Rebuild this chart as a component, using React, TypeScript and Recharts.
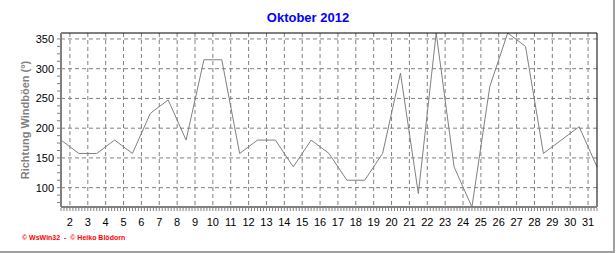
import { CartesianGrid, Line, LineChart, ReferenceLine, XAxis, YAxis } from "recharts";

// Oktober 2012 - Richtung Windböen, ein Wert pro Tag (Grad)
const days = [
  1, 2, 3, 4, 5, 6, 7, 8, 9, 10, 11, 12, 13, 14, 15, 16,
  17, 18, 19, 20, 21, 22, 23, 24, 25, 26, 27, 28, 29, 30, 31,
];
const gustDir = [
  180, 157.5, 157.5, 180, 157.5, 225, 247.5, 180, 315, 315, 157.5,
  180, 180, 135, 180, 157.5, 112.5, 112.5, 157.5, 292.5, 90, 360,
  135, 67.5, 270, 360, 337.5, 157.5, 180, 202.5, 135,
];

// day labels sit at the start of each day (data points are day midpoints)
const dayTickLabels = [
  2, 3, 4, 5, 6, 7, 8, 9, 10, 11, 12, 13, 14, 15, 16, 17,
  18, 19, 20, 21, 22, 23, 24, 25, 26, 27, 28, 29, 30, 31,
];
const yTickLabels = [100, 150, 200, 250, 300, 350];
const Y_DOMAIN: [number, number] = [67.5, 360];

const GREY = "#808080";
const FONT = "Arial, 'Liberation Sans', sans-serif";

const data = days.map((d, i) => ({ day: d, dir: gustDir[i] }));

const dayTickPos = dayTickLabels.map((d) => d - 0.5);

// minor ticks every 4 hours along x, every 12.5 deg along y
const xMinor: number[] = [];
for (let i = 0; i <= 180; i++) xMinor.push(1 + i / 6);
const yMinor: number[] = [];
for (let v = 75; v <= 350; v += 12.5) yMinor.push(v);

const isMajorX = (v: number) => dayTickPos.some((p) => Math.abs(p - v) < 0.01);

function XTick(props: any) {
  const { x, y, payload } = props;
  const major = isMajorX(payload.value);
  return (
    <g>
      <line x1={x} x2={x} y1={y + 1} y2={y + 4} stroke={GREY} />
      {major && (
        <text x={x} y={y + 19} textAnchor="middle" fontSize={11} fontFamily={FONT} fill="#000">
          {Math.round(payload.value + 0.5)}
        </text>
      )}
    </g>
  );
}

function YTick(props: any) {
  const { x, y, payload } = props;
  const major = yTickLabels.includes(payload.value);
  return (
    <g>
      <line x1={x - 4} x2={x - 1} y1={y} y2={y} stroke={GREY} />
      {major && (
        <text x={x - 7} y={y + 4} textAnchor="end" fontSize={11} fontFamily={FONT} fill="#000">
          {payload.value}
        </text>
      )}
    </g>
  );
}

export default function App() {
  return (
    <div
      style={{
        position: "absolute",
        left: 0,
        top: 0,
        width: 615,
        height: 253,
        boxSizing: "border-box",
        borderRight: "2px solid #a0a0a0",
        borderBottom: "2px solid #a0a0a0",
        background: "#fff",
        fontFamily: FONT,
      }}
    >
      <div
        style={{
          position: "absolute",
          left: 0,
          width: 616,
          top: 10,
          textAlign: "center",
          color: "#0000ff",
          fontWeight: "bold",
          fontSize: 13,
        }}
      >
        Oktober 2012
      </div>
      <div
        style={{
          position: "absolute",
          left: 25,
          top: 120,
          transform: "translate(-50%, -50%) rotate(-90deg)",
          whiteSpace: "nowrap",
          color: GREY,
          fontWeight: "bold",
          fontSize: 11,
        }}
      >
        Richtung Windböen (°)
      </div>
      <div
        style={{
          position: "absolute",
          left: 22,
          top: 234,
          color: "#ff0000",
          fontWeight: "bold",
          fontSize: 7,
          whiteSpace: "nowrap",
        }}
      >
        © WsWin32 &nbsp;- &nbsp;© Heiko Blödorn
      </div>
      <div style={{ position: "absolute", left: 0, top: 0 }}>
        <LineChart
          width={616}
          height={253}
          data={data}
          margin={{ top: 33, right: 19, bottom: 16, left: 11 }}
        >
          <CartesianGrid
            stroke={GREY}
            strokeDasharray="4 3"
            horizontalValues={yTickLabels}
            verticalValues={dayTickPos}
          />
          <XAxis
            dataKey="day"
            type="number"
            domain={[1, 31]}
            ticks={xMinor}
            interval={0}
            height={30}
            tickSize={0}
            tickMargin={0}
            tickLine={false}
            axisLine={{ stroke: GREY, strokeWidth: 2 }}
            tick={XTick}
          />
          <YAxis
            type="number"
            domain={Y_DOMAIN}
            ticks={yMinor}
            interval={0}
            width={50}
            tickSize={0}
            tickMargin={0}
            tickLine={false}
            axisLine={{ stroke: GREY, strokeWidth: 2 }}
            tick={YTick}
            allowDataOverflow
          />
          <Line
            dataKey="dir"
            type="linear"
            stroke={GREY}
            strokeWidth={1}
            dot={false}
            activeDot={false}
            isAnimationActive={false}
          />
          <ReferenceLine y={360} stroke="#000" />
          <ReferenceLine x={31} stroke="#000" />
        </LineChart>
      </div>
    </div>
  );
}
